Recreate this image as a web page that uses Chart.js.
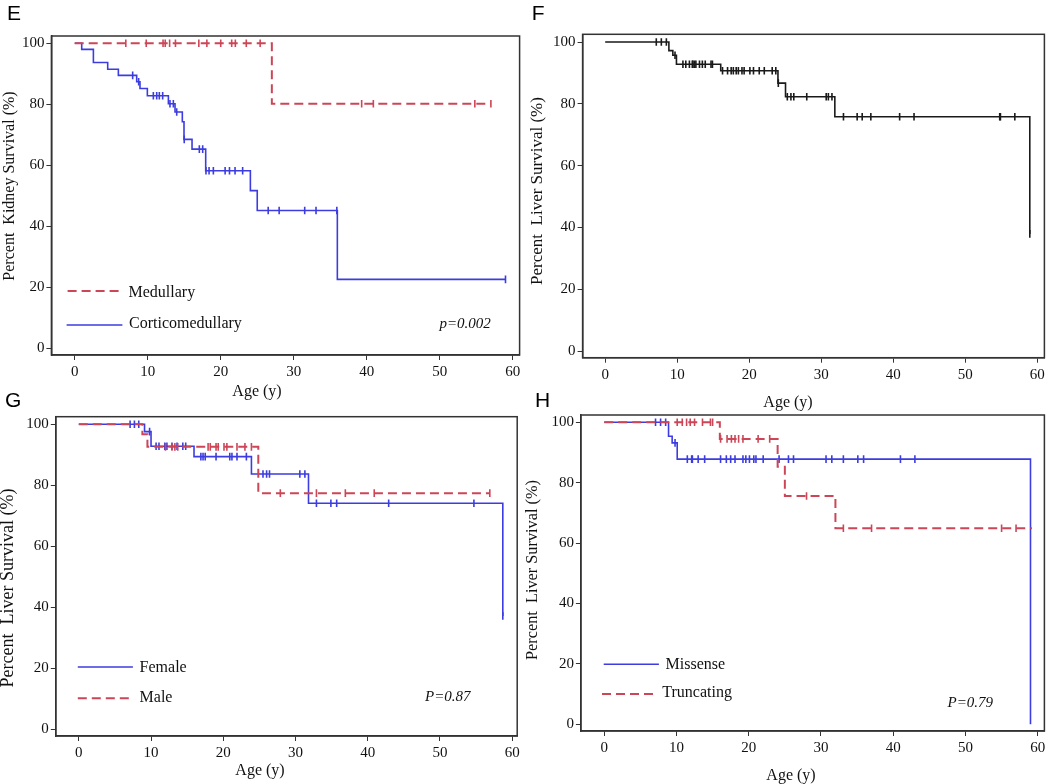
<!DOCTYPE html>
<html>
<head>
<meta charset="utf-8">
<script src="https://cdn.jsdelivr.net/npm/chart.js@4.4.0/dist/chart.umd.min.js"></script>
<style>
  html, body { margin: 0; padding: 0; background: #fff; }
  #wrap { position: relative; width: 1050px; height: 784px; }
  #wrap canvas { position: absolute; left: 0; top: 0; }
</style>
</head>
<body>
<div id="wrap">
  <canvas id="chartE" width="1050" height="784"></canvas>
  <canvas id="chartF" width="1050" height="784"></canvas>
  <canvas id="chartG" width="1050" height="784"></canvas>
  <canvas id="chartH" width="1050" height="784"></canvas>
</div>
<script>
var xTicks = [0, 10, 20, 30, 40, 50, 60];
var yTicks = [0, 20, 40, 60, 80, 100];

// E - kidney survival, medullary vs corticomedullary
var eMedTimes = [0, 27.0, 57.0];
var eMedSurv = [100, 80.2, 80.2];
var eMedCensor = [7.0, 9.8, 12.1, 12.4, 13.0, 13.8, 17.0, 18.1, 20.0, 21.5, 22.0, 23.5, 25.4, 39.3, 40.9, 54.8, 57.0];
var eCortTimes = [0, 0.96, 2.56, 4.52, 5.98, 8.49, 8.94, 9.95, 12.83, 13.74, 14.74, 14.97, 16.07, 17.94, 24.06, 25.0, 35.97, 59.0];
var eCortSurv = [100, 98.0, 93.7, 91.5, 89.5, 87.4, 85.2, 82.8, 80.2, 77.5, 74.3, 68.5, 65.3, 58.2, 51.7, 45.2, 22.6, 22.6];
var eCortCensor = [7.94, 8.76, 10.77, 11.23, 11.59, 12.05, 13.05, 13.51, 13.97, 15.0, 17.07, 17.53, 17.98, 18.4, 18.99, 20.6, 21.2, 21.96, 23.0, 26.5, 28.0, 31.5, 33.05, 35.9, 59.0];

// F - liver survival, all
var fTimes = [0, 8.85, 9.4, 9.9, 16.05, 24.0, 25.05, 31.9, 58.98];
var fSurv = [100, 97.2, 95.7, 92.8, 90.7, 86.7, 82.3, 75.8, 37.9];
var fCensor = [7.1, 7.8, 8.5, 9.7, 10.8, 11.2, 11.7, 12.1, 12.2, 12.4, 12.6, 13.1, 13.5, 13.9, 14.7, 14.9, 16.3, 17.0, 17.5, 17.8, 18.2, 18.5, 19.0, 19.3, 20.1, 20.6, 21.4, 22.1, 23.2, 23.7, 24.05, 25.3, 25.8, 26.2, 28.0, 30.7, 31.0, 31.5, 33.1, 35.0, 35.7, 36.9, 40.9, 42.9, 54.8, 54.9, 56.9, 58.98];

// G - liver survival by sex
var gFemTimes = [0, 9.1, 10.0, 15.95, 23.9, 31.8, 58.7];
var gFemSurv = [100, 97.6, 92.8, 89.4, 83.7, 74.1, 37.1];
var gFemCensor = [7.1, 7.7, 8.3, 9.8, 10.7, 11.1, 11.9, 12.2, 12.9, 13.6, 14.4, 14.8, 16.9, 17.2, 17.5, 19.0, 20.9, 21.2, 21.9, 23.2, 25.5, 26.0, 26.4, 30.6, 31.3, 32.9, 34.9, 35.7, 42.9, 54.7, 58.7];
var gMaleTimes = [0, 8.8, 9.5, 24.85, 56.9];
var gMaleSurv = [100, 96.7, 92.6, 77.4, 77.4];
var gMaleCensor = [12.0, 12.9, 13.3, 13.7, 17.9, 18.2, 19.0, 19.3, 20.1, 20.5, 21.9, 23.0, 23.9, 27.9, 32.9, 36.9, 40.9, 56.9];

// H - liver survival by mutation type
var hMisTimes = [0, 8.9, 9.4, 10.1, 59.0];
var hMisSurv = [100, 95.4, 93.2, 87.8, 0];
var hMisCensor = [7.1, 7.8, 8.5, 9.8, 11.5, 12.1, 12.2, 13.0, 13.9, 16.1, 16.9, 17.5, 18.1, 19.2, 19.6, 20.1, 20.7, 21.0, 22.0, 24.2, 25.5, 26.2, 30.7, 31.5, 33.1, 35.1, 35.9, 41.0, 43.0];
var hTrunTimes = [0, 16.0, 24.0, 25.0, 32.0, 59.2];
var hTrunSurv = [100, 94.5, 85.3, 75.6, 64.9, 64.9];
var hTrunCensor = [10.1, 10.8, 11.4, 11.9, 12.5, 13.6, 14.7, 15.0, 16.1, 17.0, 17.6, 18.1, 18.6, 19.2, 21.3, 22.9, 28.0, 33.1, 37.0, 55.0, 57.0];

var RED = '#cc4657';
var BLUE = '#3c3ce0';
var BLACK = '#1a1a1a';
var SERIF = '"Liberation Serif", "Times New Roman", serif';
var SANS = '"Liberation Sans", Arial, sans-serif';

function survAt(times, surv, t) {
  var v = surv[0];
  for (var i = 0; i < times.length; i++) {
    if (times[i] <= t) v = surv[i];
  }
  return v;
}

function curve(times, surv, censor, color, dashed) {
  var line = {
    data: times.map(function(t, i) { return {x: t, y: surv[i]}; }),
    showLine: true,
    stepped: true,
    borderColor: color,
    borderWidth: dashed ? 2 : 1.6,
    borderDash: dashed ? [9, 5] : [],
    pointRadius: 0
  };
  var marks = {
    data: censor.map(function(t) { return {x: t, y: survAt(times, surv, t)}; }),
    showLine: false,
    pointStyle: 'line',
    pointRotation: 90,
    pointRadius: 3.8,
    pointBorderWidth: 1.6,
    pointBorderColor: color,
    pointBackgroundColor: color
  };
  return [line, marks];
}

function decor(p) {
  return {
    id: 'decor',
    afterDraw: function(chart) {
      var ctx = chart.ctx, a = chart.chartArea;
      ctx.save();
      ctx.strokeStyle = '#333';
      ctx.lineWidth = 1.5;
      ctx.strokeRect(a.left, a.top, a.right - a.left, a.bottom - a.top);

      ctx.fillStyle = '#000';
      ctx.textBaseline = 'alphabetic';
      ctx.textAlign = 'left';
      ctx.font = '21px ' + SANS;
      ctx.fillText(p.letter[0], p.letter[1], p.letter[2]);

      ctx.fillStyle = '#111';
      ctx.textAlign = 'center';
      ctx.textBaseline = 'middle';
      ctx.font = '16px ' + SERIF;
      ctx.fillText('Age (y)', p.xTitle[0], p.xTitle[1]);
      ctx.save();
      ctx.translate(p.yTitle[0], p.yTitle[1]);
      ctx.rotate(-Math.PI / 2);
      ctx.font = p.yTitle[3] + 'px ' + SERIF;
      ctx.fillText(p.yTitle[2], 0, 0);
      ctx.restore();

      ctx.textAlign = 'left';
      ctx.textBaseline = 'alphabetic';
      (p.legend || []).forEach(function(it) {
        ctx.beginPath();
        ctx.strokeStyle = it.color;
        ctx.lineWidth = it.dashed ? 2 : 1.6;
        ctx.setLineDash(it.dashed ? [9, 5] : []);
        ctx.moveTo(it.x1, it.y);
        ctx.lineTo(it.x2, it.y);
        ctx.stroke();
        ctx.setLineDash([]);
        ctx.font = '16px ' + SERIF;
        ctx.fillStyle = '#111';
        ctx.fillText(it.text, it.tx, it.ty);
      });
      if (p.pval) {
        ctx.font = 'italic 15px ' + SERIF;
        ctx.fillText(p.pval[0], p.pval[1], p.pval[2]);
      }
      ctx.restore();
    }
  };
}

function makePanel(id, p, datasets) {
  var xUnit = (p.x60 - p.x0) / 60;
  var yUnit = (p.y0 - p.y100) / 100;
  var xAxisH = 30;
  var tickFont = {family: SERIF, size: 15};
  new Chart(document.getElementById(id), {
    type: 'scatter',
    data: {datasets: datasets},
    options: {
      responsive: false,
      animation: false,
      events: [],
      layout: {
        padding: {left: 0, top: p.top, right: 1050 - p.right, bottom: 784 - p.bottom - xAxisH}
      },
      plugins: {legend: {display: false}, tooltip: {enabled: false}},
      scales: {
        x: {
          type: 'linear',
          min: -(p.x0 - p.left) / xUnit,
          max: 60 + (p.right - p.x60) / xUnit,
          afterBuildTicks: function(axis) { axis.ticks = xTicks.map(function(v) { return {value: v}; }); },
          afterFit: function(s) { s.height = xAxisH; },
          ticks: {font: tickFont, color: '#111', padding: 3, maxRotation: 0, autoSkip: false},
          grid: {drawOnChartArea: false, tickLength: 5, color: '#333'},
          border: {color: '#333', width: 1.5}
        },
        y: {
          type: 'linear',
          min: -(p.bottom - p.y0) / yUnit,
          max: 100 + (p.y100 - p.top) / yUnit,
          afterBuildTicks: function(axis) { axis.ticks = yTicks.map(function(v) { return {value: v}; }); },
          afterFit: function(s) { s.width = p.left; },
          ticks: {font: tickFont, color: '#111', padding: 2, autoSkip: false},
          grid: {drawOnChartArea: false, tickLength: 5, color: '#333'},
          border: {color: '#333', width: 1.5}
        }
      }
    },
    plugins: [decor(p)]
  });
}

makePanel('chartE', {
  left: 51.4, top: 36, right: 519.6, bottom: 355, x0: 74.7, x60: 512.8, y100: 43.3, y0: 348.3,
  letter: ['E', 7, 20],
  xTitle: [257, 392],
  yTitle: [9.5, 186, 'Percent  Kidney Survival (%)', 16],
  legend: [
    {color: RED, dashed: true, x1: 67.6, x2: 121.7, y: 291, text: 'Medullary', tx: 128.5, ty: 297},
    {color: BLUE, dashed: false, x1: 66.6, x2: 122.4, y: 325, text: 'Corticomedullary', tx: 129, ty: 328}
  ],
  pval: ['p=0.002', 439.5, 328]
}, [].concat(
  curve(eMedTimes, eMedSurv, eMedCensor, RED, true),
  curve(eCortTimes, eCortSurv, eCortCensor, BLUE, false)
));

makePanel('chartF', {
  left: 582.6, top: 34.3, right: 1047, bottom: 357.7, x0: 605.3, x60: 1039.7, y100: 42, y0: 351,
  letter: ['F', 531.7, 20],
  xTitle: [788, 403],
  yTitle: [537.5, 191, 'Percent  Liver Survival (%)', 17]
}, curve(fTimes, fSurv, fCensor, BLACK, false));

makePanel('chartG', {
  left: 55.8, top: 416.7, right: 517.2, bottom: 736, x0: 78.8, x60: 512.2, y100: 424.3, y0: 729,
  letter: ['G', 5, 407],
  xTitle: [260, 771],
  yTitle: [8, 588, 'Percent  Liver Survival (%)', 18],
  legend: [
    {color: BLUE, dashed: false, x1: 77.8, x2: 132.9, y: 667, text: 'Female', tx: 139.6, ty: 672},
    {color: RED, dashed: true, x1: 77.8, x2: 132.9, y: 698.3, text: 'Male', tx: 139.6, ty: 701.5}
  ],
  pval: ['P=0.87', 425, 700.5]
}, [].concat(
  curve(gMaleTimes, gMaleSurv, gMaleCensor, RED, true),
  curve(gFemTimes, gFemSurv, gFemCensor, BLUE, false)
));

makePanel('chartH', {
  left: 580.9, top: 415, right: 1045.6, bottom: 731, x0: 604.3, x60: 1038.9, y100: 422.3, y0: 724.3,
  letter: ['H', 535, 406.7],
  xTitle: [791, 776],
  yTitle: [533, 570, 'Percent  Liver Survival (%)', 16.3],
  legend: [
    {color: BLUE, dashed: false, x1: 603.7, x2: 658.9, y: 664.3, text: 'Missense', tx: 665.6, ty: 669.3},
    {color: RED, dashed: true, x1: 602, x2: 656.6, y: 694, text: 'Truncating', tx: 662.3, ty: 697.3}
  ],
  pval: ['P=0.79', 947.5, 706.5]
}, [].concat(
  curve(hTrunTimes, hTrunSurv, hTrunCensor, RED, true),
  curve(hMisTimes, hMisSurv, hMisCensor, BLUE, false)
));
</script>
</body>
</html>
